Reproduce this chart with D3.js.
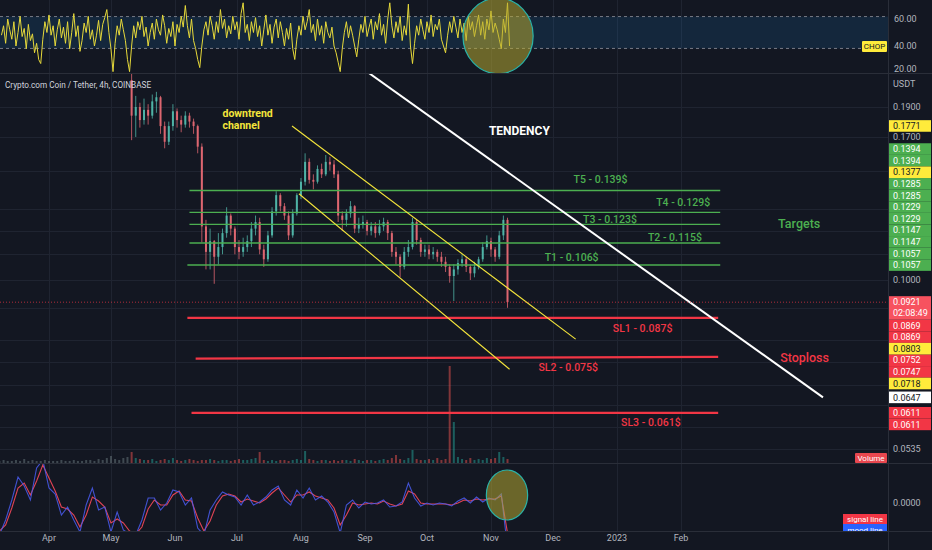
<!DOCTYPE html>
<html>
<head>
<meta charset="utf-8">
<script src="https://cdn.jsdelivr.net/npm/d3@7"></script>
<style>
  body { margin: 0; background: #131722; }
  svg { display: block; font-family: Roboto, 'Noto Sans', sans-serif; }
</style>
</head>
<body>
<div id="chart"></div>
<script>

// price candles, one bar per 2 days starting 11 May 2022 (open = previous close)
var candleStart = new Date(2022, 4, 11);
var firstOpen = 0.210;
var closes = [0.184,0.190,0.181,0.188,0.184,0.194,0.197,0.177,0.167,0.177,
  0.187,0.181,0.178,0.184,0.180,0.177,0.164,0.122,0.111,0.1155,
  0.109,0.113,0.119,0.127,0.121,0.113,0.111,0.113,0.1155,0.121,
  0.124,0.112,0.108,0.118,0.129,0.137,0.1315,0.127,0.118,0.128,
  0.137,0.144,0.155,0.145,0.144,0.151,0.148,0.155,0.1535,0.148,
  0.127,0.125,0.128,0.1315,0.121,0.123,0.124,0.120,0.122,0.119,
  0.122,0.124,0.119,0.111,0.109,0.105,0.111,0.113,0.124,0.116,
  0.111,0.112,0.110,0.111,0.109,0.107,0.105,0.1015,0.104,0.1065,
  0.108,0.105,0.1025,0.105,0.108,0.113,0.1155,0.112,0.109,0.118,
  0.125,0.0921];
var highs = [0.215,0.198,0.193,0.196,0.192,0.199,0.201,0.198,0.180,0.180,
  0.192,0.189,0.184,0.187,0.186,0.182,0.178,0.166,0.125,0.121,
  0.116,0.119,0.121,0.131,0.128,0.122,0.116,0.117,0.118,0.124,
  0.127,0.126,0.114,0.120,0.131,0.139,0.138,0.133,0.129,0.130,
  0.138,0.146,0.160,0.157,0.148,0.153,0.154,0.159,0.158,0.156,
  0.150,0.129,0.130,0.134,0.132,0.126,0.127,0.125,0.124,0.124,
  0.125,0.126,0.125,0.120,0.113,0.110,0.113,0.116,0.126,0.125,
  0.117,0.114,0.114,0.113,0.112,0.111,0.109,0.106,0.106,0.108,
  0.110,0.109,0.106,0.107,0.109,0.115,0.118,0.117,0.113,0.120,
  0.127,0.126];
var lows = [0.168,0.170,0.176,0.178,0.178,0.182,0.186,0.172,0.163,0.165,
  0.174,0.176,0.173,0.176,0.176,0.172,0.160,0.115,0.104,0.104,
  0.0986,0.106,0.110,0.117,0.118,0.110,0.108,0.109,0.111,0.113,
  0.118,0.110,0.105,0.107,0.117,0.127,0.129,0.125,0.116,0.117,
  0.127,0.135,0.142,0.143,0.140,0.143,0.146,0.147,0.150,0.146,
  0.124,0.120,0.122,0.126,0.119,0.119,0.121,0.118,0.118,0.117,
  0.118,0.120,0.116,0.109,0.106,0.101,0.104,0.109,0.112,0.114,
  0.109,0.109,0.108,0.108,0.107,0.105,0.103,0.099,0.0925,0.102,
  0.105,0.103,0.100,0.101,0.104,0.107,0.112,0.109,0.107,0.108,
  0.116,0.0902];
var currentPrice = 0.0921;
var countdown = "02:08:49";

// volume (millions), 2 day bars starting 8 Mar 2022
var volStart = new Date(2022, 2, 8);
var volumes = [2,3,2,2,3,2,4,2,3,2, 2,3,2,2,2,3,2,2,3,2, 2,3,3,2,4,3,5,7,4,3,
  5,6,11,5,4,3,3,4,2,3, 4,3,5,3,2,3,4,3,2,3, 3,4,3,2,3,3,2,3,4,3,
  3,4,5,11,3,2,3,2,3,3, 2,3,4,3,12,4,3,2,3,3, 2,3,2,3,3,2,4,3,2,3,
  3,2,3,4,3,5,8,4,3,5, 13,4,3,3,4,3,5,3,4,97, 41,6,4,3,5,3,4,3,5,4,
  5,11,6,4];

// choppiness index, daily from 9 Mar 2022
var chopStart = new Date(2022, 2, 9);
var chopValues = [48,55,42,60,52,45,58,40,50,62, 47,53,38,56,44,49,35,42,30,27,
  45,58,50,63,48,55,40,52,60,46, 54,42,58,38,50,64,47,55,36,44,
  57,50,62,45,52,40,48,59,44,56, 61,67,50,38,21,42,55,48,60,52,
  44,30,21,40,55,46,58,52,62,47, 54,40,50,57,45,60,52,48,63,55,
  42,53,47,58,40,56,50,62,54,70, 55,46,60,44,38,30,24,40,52,58,
  48,62,55,45,58,50,67,53,60,46, 55,49,62,52,58,45,64,72,50,56,
  44,58,50,61,47,55,40,52,63,48, 56,42,54,60,46,58,50,40,53,45,
  57,38,30,45,55,48,62,52,58,67, 50,56,44,60,48,55,42,58,50,46,
  54,40,35,28,21,38,50,58,46,55, 48,40,32,45,56,50,62,47,54,60,
  45,58,52,64,48,56,42,60,72,55, 46,58,50,62,44,55,48,71,40,27,
  42,55,48,60,52,45,58,50,63,47, 56,52,60,45,40,35,48,58,50,62,
  54,46,60,50,57,44,62,52,58,47, 55,63,48,58,45,60,52,66,50,57,
  52,45,38,60,50,72,40];
var chopBand = [38.2, 61.8];

// oscillator in units of 0.0001, one point per 3 days from 8 Mar 2022
var oscStart = new Date(2022, 2, 8);
var moodLine = [-32,-17,3,26,17,3,35,43,15,9, -12,-4,-17,-29,-2,15,-7,-4,-29,-9,
  -27,-31,-32,-17,5,5,-7,0,13,11, -2,5,-25,-32,-7,3,11,8,6,-2,
  8,-2,1,6,13,17,3,-2,13,5, 15,3,7,1,-9,-30,-2,3,-5,1,
  -1,0,3,-4,-3,1,20,5,-3,0, -2,0,-1,-3,2,5,0,6,1,5, 3,9,-45];
var signalLine = [-28,-22,-5,15,20,8,22,38,25,12, -4,-6,-12,-24,-12,6,2,-4,-20,-16,
  -20,-28,-31,-24,-6,3,-2,-2,8,12, 3,2,-15,-28,-18,-2,7,9,7,1,
  4,2,0,4,10,15,8,1,8,8, 11,7,5,3,-5,-22,-12,0,-2,-1,
  0,-1,2,-1,-3,-1,12,9,0,-1, -1,-1,-1,-2,0,3,2,4,3,4, 4,7,-30];

// axis ticks
var monthTicks = ["2022-04-01","2022-05-01","2022-06-01","2022-07-01","2022-08-01","2022-09-01",
  "2022-10-01","2022-11-01","2022-12-01","2023-01-01","2023-02-01"];
var monthLabels = ["Apr","May","Jun","Jul","Aug","Sep","Oct","Nov","Dec","2023","Feb"];
var priceTicks = [0.19,0.17,0.15,0.13,0.12,0.11,0.10,0.09,0.08,0.0737,0.0677,0.0629,0.058,0.0535];
var chopTicks = [60, 40, 20];

// drawings: [start date, start price, end date, end price]
var targetLines = [
  ["2022-06-08", 0.1394, "2023-02-20", 0.1394],
  ["2022-06-08", 0.1285, "2023-02-20", 0.1285],
  ["2022-06-08", 0.1229, "2023-02-20", 0.1229],
  ["2022-06-08", 0.1147, "2023-02-20", 0.1147],
  ["2022-06-07", 0.1057, "2023-02-20", 0.1057]];
var stopLines = [
  ["2022-06-07", 0.0869, "2023-02-19", 0.0869],
  ["2022-06-11", 0.0747, "2023-02-19", 0.0752],
  ["2022-06-09", 0.0611, "2023-02-19", 0.0611]];
var channelLines = [
  ["2022-07-27T16:00", 0.1771, "2022-12-12", 0.0803],
  ["2022-07-31", 0.1377, "2022-11-10", 0.0718]];
var tendencyLine = [["2022-09-02T12:00", 0.2160, "2023-04-10T18:00", 0.0647]];

// text notes: [date, price, text]
var targetNotes = [["2022-12-11", 0.1455, "T5 - 0.139$"], ["2023-01-20", 0.1336, "T4 - 0.129$"],
  ["2022-12-15T14:00", 0.1254, "T3 - 0.123$"], ["2023-01-16", 0.1173, "T2 - 0.115$"],
  ["2022-11-27", 0.1089, "T1 - 0.106$"], ["2023-03-20", 0.1231, "Targets"]];
var stopNotes = [["2022-12-30", 0.0837, "SL1 - 0.087$"], ["2022-11-24", 0.0724, "SL2 - 0.075$"],
  ["2023-01-03", 0.0590, "SL3 - 0.061$"], ["2023-03-21", 0.0749, "Stoploss"]];

var parse = function(s) { return new Date(s.length > 10 ? s : s + "T00:00"); };

var width = 932, height = 550, plotRight = 888;

var svg = d3.select("#chart").append("svg")
    .attr("width", width)
    .attr("height", height);

svg.append("rect").attr("width", width).attr("height", height).attr("fill", "#131722");

var x = d3.scaleTime()
    .domain([new Date(2022, 3, 1), new Date(2023, 1, 1)])
    .range([49, 681]);
var yPrice = d3.scaleLog().domain([0.1, 0.19]).range([280, 107]);
var yChop = d3.scaleLinear().domain([20, 60]).range([73, 19]);
var yVol = d3.scaleLinear().domain([0, 100]).range([463, 363]);
var yOsc = d3.scaleLinear().domain([0, 40]).range([503, 463]);

// clip paths for the three panes
var defs = svg.append("defs");
defs.append("clipPath").attr("id", "chopClip").append("rect")
    .attr("x", 0).attr("y", 0).attr("width", plotRight).attr("height", 73);
defs.append("clipPath").attr("id", "mainClip").append("rect")
    .attr("x", 0).attr("y", 74).attr("width", plotRight).attr("height", 389);
defs.append("clipPath").attr("id", "oscClip").append("rect")
    .attr("x", 0).attr("y", 464).attr("width", plotRight).attr("height", 67);

// grid
var grid = svg.append("g").attr("stroke", "#1f2431").attr("stroke-width", 1);
grid.selectAll(".vgrid")
    .data(monthTicks)
  .enter().append("line")
    .attr("x1", function(d) { return Math.round(x(parse(d))) + 0.5; })
    .attr("x2", function(d) { return Math.round(x(parse(d))) + 0.5; })
    .attr("y1", 0).attr("y2", 531);
grid.selectAll(".hgrid")
    .data(priceTicks)
  .enter().append("line")
    .attr("x1", 0).attr("x2", plotRight)
    .attr("y1", function(d) { return Math.round(yPrice(d)) + 0.5; })
    .attr("y2", function(d) { return Math.round(yPrice(d)) + 0.5; });

// ---- choppiness pane ----
var chop = svg.append("g").attr("clip-path", "url(#chopClip)");
chop.append("rect")
    .attr("x", 0).attr("width", plotRight)
    .attr("y", yChop(chopBand[1])).attr("height", yChop(chopBand[0]) - yChop(chopBand[1]))
    .attr("fill", "#2196f3").attr("fill-opacity", 0.13);
chop.selectAll(".band")
    .data(chopBand)
  .enter().append("line")
    .attr("x1", 0).attr("x2", plotRight)
    .attr("y1", function(d) { return yChop(d); }).attr("y2", function(d) { return yChop(d); })
    .attr("stroke", "#787b86").attr("stroke-dasharray", "3,3");
chop.append("path")
    .datum(chopValues)
    .attr("fill", "none")
    .attr("stroke", "#e6d93a")
    .attr("stroke-width", 1)
    .attr("d", d3.line()
      .x(function(d, i) { return x(d3.timeDay.offset(chopStart, i)); })
      .y(function(d) { return yChop(d); }));
var chopCenter = new Date(2022, 10, 4, 10);
chop.append("ellipse")
    .attr("cx", x(chopCenter))
    .attr("cy", yChop(47.5))
    .attr("rx", x(d3.timeDay.offset(chopCenter, 17)) - x(chopCenter))
    .attr("ry", yChop(20) - yChop(48))
    .attr("fill", "#b5a832").attr("fill-opacity", 0.55)
    .attr("stroke", "#2bb3a8").attr("stroke-width", 1.2);

// ---- price pane ----
var main = svg.append("g").attr("clip-path", "url(#mainClip)");

var candles = closes.map(function(c, i) {
  return { date: d3.timeDay.offset(candleStart, 2 * i),
           open: i === 0 ? firstOpen : closes[i - 1],
           high: highs[i], low: lows[i], close: c };
});

// volume bars
main.append("g").selectAll("rect")
    .data(volumes)
  .enter().append("rect")
    .attr("x", function(d, i) { return x(d3.timeDay.offset(volStart, 2 * i)) - 1; })
    .attr("width", 2)
    .attr("y", function(d) { return yVol(d); })
    .attr("height", function(d) { return yVol(0) - yVol(d); })
    .attr("fill", function(d, i) {
      var c = candles[i - 32];
      if (!c) return "#6b7c80";
      return c.close >= c.open ? "#26a69a" : "#ef5350"; })
    .attr("fill-opacity", 0.5);

// candles
var upColor = "#4fb3a6", downColor = "#dd6670";
var candle = main.append("g").selectAll(".candle")
    .data(candles)
  .enter().append("g")
    .attr("class", "candle");
candle.append("line")
    .attr("x1", function(d) { return x(d.date); })
    .attr("x2", function(d) { return x(d.date); })
    .attr("y1", function(d) { return yPrice(d.high); })
    .attr("y2", function(d) { return yPrice(d.low); })
    .attr("stroke", function(d) { return d.close >= d.open ? upColor : downColor; })
    .attr("stroke-width", 0.8);
candle.append("rect")
    .attr("x", function(d) { return x(d.date) - 1; })
    .attr("width", 2)
    .attr("y", function(d) { return yPrice(Math.max(d.open, d.close)); })
    .attr("height", function(d) { return Math.max(1, Math.abs(yPrice(d.open) - yPrice(d.close))); })
    .attr("fill", function(d) { return d.close >= d.open ? upColor : downColor; });

function drawLines(data, color, w) {
  main.append("g").selectAll("line")
      .data(data)
    .enter().append("line")
      .attr("x1", function(d) { return x(parse(d[0])); })
      .attr("y1", function(d) { return yPrice(d[1]); })
      .attr("x2", function(d) { return x(parse(d[2])); })
      .attr("y2", function(d) { return yPrice(d[3]); })
      .attr("stroke", color)
      .attr("stroke-width", w);
}
drawLines(targetLines, "#4caf50", 1.4);
drawLines(stopLines, "#f23645", 2.2);
drawLines(channelLines, "#f5e63b", 1.1);
drawLines(tendencyLine, "#ffffff", 2);

// current price line
main.append("line")
    .attr("x1", 0).attr("x2", plotRight)
    .attr("y1", yPrice(currentPrice)).attr("y2", yPrice(currentPrice))
    .attr("stroke", "#f23645").attr("stroke-opacity", 0.7)
    .attr("stroke-dasharray", "1,2");

function drawNotes(data, color, size) {
  main.append("g").selectAll("text")
      .data(data)
    .enter().append("text")
      .attr("x", function(d) { return x(parse(d[0])); })
      .attr("y", function(d) { return yPrice(d[1]); })
      .attr("dy", "0.35em")
      .attr("fill", color)
      .style("font-size", function(d) { return d[2].length < 9 ? "12.5px" : size; })
      .style("font-weight", 500)
      .text(function(d) { return d[2]; });
}
drawNotes(targetNotes, "#4caf50", "10.5px");
drawNotes(stopNotes, "#f23645", "10.5px");

main.append("text")
    .attr("x", x(new Date(2022, 9, 31))).attr("y", yPrice(0.1738)).attr("dy", "0.35em")
    .attr("fill", "#ffffff").style("font-size", "12px").style("font-weight", "bold")
    .text("TENDENCY");
main.append("text")
    .attr("x", x(new Date(2022, 5, 24))).attr("y", yPrice(0.1858)).attr("dy", "0.35em")
    .attr("fill", "#f5e63b").style("font-size", "10.5px").style("font-weight", "bold")
    .text("downtrend");
main.append("text")
    .attr("x", x(new Date(2022, 5, 24))).attr("y", yPrice(0.1774)).attr("dy", "0.35em")
    .attr("fill", "#f5e63b").style("font-size", "10.5px").style("font-weight", "bold")
    .text("channel");

// ---- oscillator pane ----
var osc = svg.append("g").attr("clip-path", "url(#oscClip)");
var oscLine = d3.line()
    .x(function(d, i) { return x(d3.timeDay.offset(oscStart, 3 * i)); })
    .y(function(d) { return yOsc(d); });
osc.append("path").datum(signalLine)
    .attr("fill", "none").attr("stroke", "#e04355").attr("stroke-width", 1.1)
    .attr("d", oscLine);
osc.append("path").datum(moodLine)
    .attr("fill", "none").attr("stroke", "#4a5cf0").attr("stroke-width", 1.1)
    .attr("stroke-opacity", 0.85)
    .attr("d", oscLine);
var oscCenter = new Date(2022, 10, 8, 18);
osc.append("ellipse")
    .attr("cx", x(oscCenter))
    .attr("cy", yOsc(8))
    .attr("rx", x(d3.timeDay.offset(oscCenter, 10.7)) - x(oscCenter))
    .attr("ry", yOsc(0) - yOsc(25))
    .attr("fill", "#b5a832").attr("fill-opacity", 0.55)
    .attr("stroke", "#2bb3a8").attr("stroke-width", 1.2);

// pane separators
var sep = svg.append("g").attr("stroke", "#2a2e39").attr("stroke-width", 1);
[73.5, 463.5, 531.5].forEach(function(y) {
  sep.append("line").attr("x1", 0).attr("x2", width).attr("y1", y).attr("y2", y);
});
sep.append("line").attr("x1", plotRight + 0.5).attr("x2", plotRight + 0.5).attr("y1", 0).attr("y2", 550);

// ---- price labels on the scale, stacked away from the last price ----
var labelH = 11.6;
var labels = [];
function addLabels(data, fill, ink) {
  data.forEach(function(d) {
    labels.push({ v: d[1], fill: fill, ink: ink });
    labels.push({ v: d[3], fill: fill, ink: ink });
  });
}
addLabels(targetLines, "#4caf50", "#ffffff");
addLabels(stopLines, "#f23645", "#ffffff");
addLabels(channelLines, "#ffeb3b", "#131722");
addLabels(tendencyLine, "#ffffff", "#131722");
labels = labels.filter(function(d) { return yPrice(d.v) > 80; });

var curY = yPrice(currentPrice);
var curTop = curY - 6, curBottom = curY + 17.5;
var prev = curTop + labelH / 2;
labels.filter(function(d) { return d.v > currentPrice; })
    .sort(function(a, b) { return a.v - b.v; })
    .forEach(function(d) { d.y = Math.min(yPrice(d.v), prev - labelH); prev = d.y; });
prev = curBottom - labelH / 2;
labels.filter(function(d) { return d.v < currentPrice; })
    .sort(function(a, b) { return b.v - a.v; })
    .forEach(function(d) { d.y = Math.max(yPrice(d.v), prev + labelH); prev = d.y; });

// a scale tick is hidden when a tag sits over it
function covered(y) {
  if (y > curTop - 4 && y < curBottom + 4) return true;
  return labels.some(function(d) { return Math.abs(d.y - y) < labelH / 2 + 4; });
}

// ---- axes text ----
var axisText = svg.append("g").attr("fill", "#b2b5be").style("font-size", "9px");
axisText.selectAll(".month")
    .data(monthTicks)
  .enter().append("text")
    .attr("x", function(d) { return x(parse(d)); })
    .attr("y", 541)
    .attr("text-anchor", "middle")
    .text(function(d, i) { return monthLabels[i]; });
axisText.selectAll(".ptick")
    .data(priceTicks.filter(function(d) { return !covered(yPrice(d)); }))
  .enter().append("text")
    .attr("x", 893).attr("y", function(d) { return yPrice(d); }).attr("dy", "0.35em")
    .text(function(d) { return d3.format(".4f")(d); });
axisText.selectAll(".ctick")
    .data(chopTicks)
  .enter().append("text")
    .attr("x", 894).attr("y", function(d) { return Math.min(yChop(d), 69); }).attr("dy", "0.35em")
    .text(function(d) { return d3.format(".2f")(d); });
axisText.append("text").attr("x", 893).attr("y", yOsc(0)).attr("dy", "0.35em").text("0.0000");
axisText.append("text").attr("x", 893).attr("y", 84).attr("dy", "0.35em").text("USDT");
svg.append("text")
    .attr("x", 5).attr("y", 85).attr("dy", "0.35em")
    .attr("fill", "#d1d4dc").style("font-size", "8.2px")
    .text("Crypto.com Coin / Tether, 4h, COINBASE");

var tag = svg.append("g").selectAll(".tag")
    .data(labels)
  .enter().append("g");
tag.append("rect")
    .attr("x", plotRight + 1).attr("width", 42)
    .attr("y", function(d) { return d.y - labelH / 2; })
    .attr("height", labelH)
    .attr("fill", function(d) { return d.fill; });
tag.append("text")
    .attr("x", 893).attr("y", function(d) { return d.y; }).attr("dy", "0.35em")
    .attr("fill", function(d) { return d.ink; })
    .style("font-size", "9px")
    .text(function(d) { return d3.format(".4f")(d.v); });

// last price tag with countdown
svg.append("rect")
    .attr("x", plotRight + 1).attr("width", 42)
    .attr("y", curTop).attr("height", curBottom - curTop)
    .attr("fill", "#f7525f");
svg.append("text").attr("x", 893).attr("y", curY).attr("dy", "0.35em")
    .attr("fill", "#ffffff").style("font-size", "9px").text(d3.format(".4f")(currentPrice));
svg.append("text").attr("x", 893).attr("y", curY + 11).attr("dy", "0.35em")
    .attr("fill", "#ffffff").style("font-size", "9px").text(countdown);

// pane legends
function legendBox(x0, y0, w, h, fill, ink, txt) {
  svg.append("rect").attr("x", x0).attr("y", y0).attr("width", w).attr("height", h)
      .attr("fill", fill).attr("rx", 1);
  svg.append("text").attr("x", x0 + w / 2).attr("y", y0 + h / 2).attr("dy", "0.35em")
      .attr("text-anchor", "middle").attr("fill", ink).style("font-size", "8px")
      .text(txt);
}
legendBox(862, 41, 25, 11, "#ffeb3b", "#131722", "CHOP");
legendBox(855, 453, 32, 10, "#e8474f", "#ffffff", "Volume");
var legendClip = svg.append("g").attr("clip-path", "url(#oscClip)");
legendClip.append("rect").attr("x", 843).attr("y", 514).attr("width", 44).attr("height", 10).attr("fill", "#f23645");
legendClip.append("text").attr("x", 865).attr("y", 519).attr("dy", "0.35em").attr("text-anchor", "middle")
    .attr("fill", "#ffffff").style("font-size", "8px").text("signal line");
legendClip.append("rect").attr("x", 843).attr("y", 524).attr("width", 44).attr("height", 10).attr("fill", "#2962ff");
legendClip.append("text").attr("x", 865).attr("y", 530).attr("dy", "0.35em").attr("text-anchor", "middle")
    .attr("fill", "#ffffff").style("font-size", "8px").text("mood line");

</script>
</body>
</html>
